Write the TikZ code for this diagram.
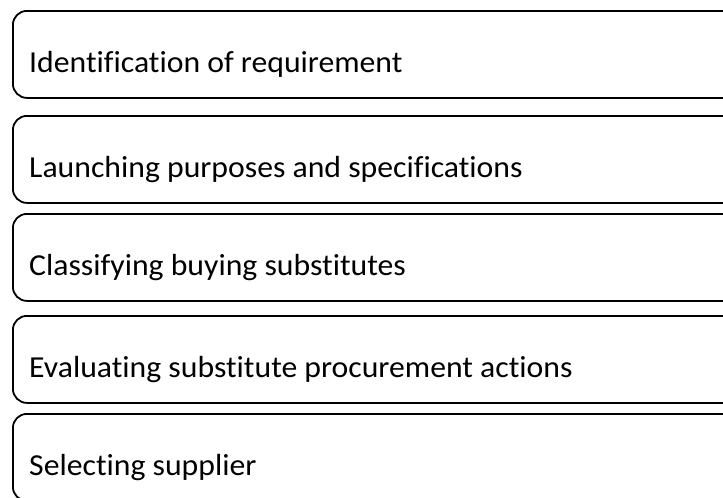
\documentclass[tikz,border=0pt]{standalone}
\usepackage{fontspec}
\setmainfont[Ligatures={NoCommon}, FakeStretch=1.04]{Carlito}
\tikzset{
	stage/.style={draw, line width=1.8pt, rounded corners=14pt, minimum width=740pt, minimum height=87pt, inner sep=0pt, anchor=north west},
	stagetext/.style={anchor=base west, inner sep=0pt, font=\fontsize{30.5}{36}\selectfont}
}
\begin{document}
\begin{tikzpicture}[x=1pt, y=-1pt]
	\useasboundingbox (0,0) rectangle (723,498);
	\clip (0,0) rectangle (723,498);
	
	% the five stages, top to bottom
	\node[stage] (ident)  at (12,10)  {};
	\node[stage] (launch) at (12,115) {};
	\node[stage] (class)  at (12,213) {};
	\node[stage] (eval)   at (12,315) {};
	\node[stage] (select) at (12,413) {};
	
	\node[stagetext] at ([shift={(17pt,-18pt)}]ident.west)  {Identification of requirement};
	\node[stagetext] at ([shift={(17pt,-18pt)}]launch.west) {Launching purposes and specifications};
	\node[stagetext] at ([shift={(17pt,-18pt)}]class.west)  {Classifying buying substitutes};
	\node[stagetext] at ([shift={(17pt,-18pt)}]eval.west)   {Evaluating substitute procurement actions};
	\node[stagetext] at ([shift={(17pt,-18pt)}]select.west) {Selecting supplier};
	
\end{tikzpicture}
\end{document}
